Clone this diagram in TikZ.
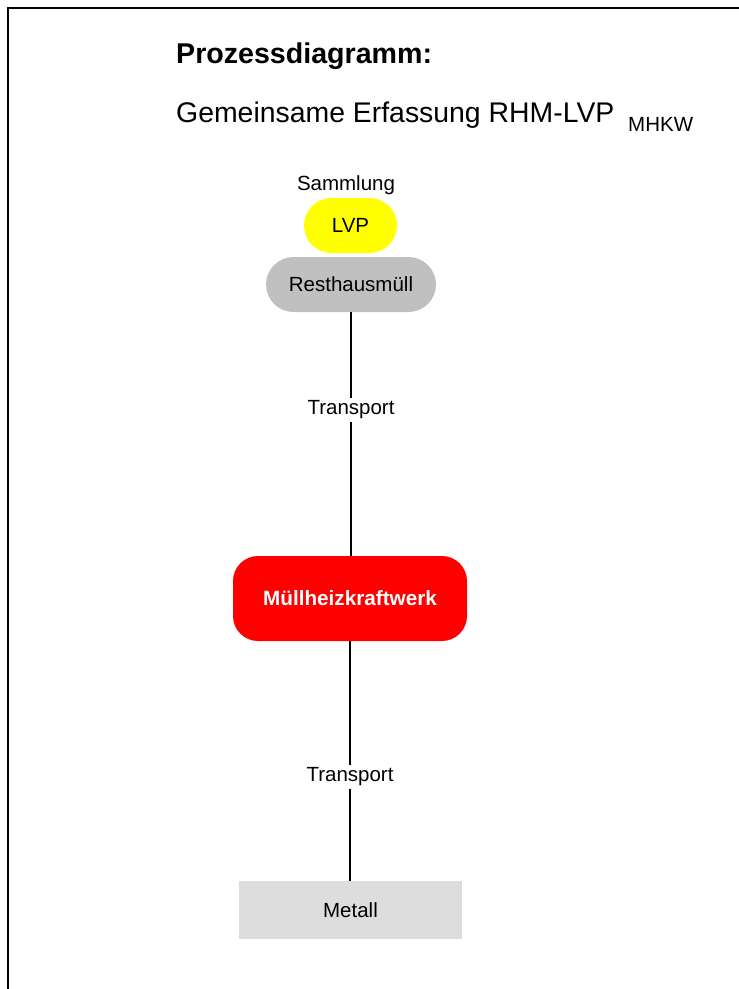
\documentclass[tikz,border=0pt]{standalone}
\usepackage{fontspec}
\setmainfont{Liberation Sans}
\definecolor{lvpyellow}{RGB}{255,255,0}
\definecolor{rhmgray}{RGB}{192,192,192}
\definecolor{mhkwred}{RGB}{255,0,0}
\definecolor{metalgray}{RGB}{221,221,221}
\begin{document}
\begin{tikzpicture}[x=1pt,y=-1pt,
  txt/.style={font=\fontsize{20.5}{24}\selectfont, inner sep=0pt},
  capsule/.style={txt, draw=none, rounded corners=27.5pt, minimum height=55pt},
  stage/.style={txt, fill=white, inner sep=3pt},
  link/.style={line width=2pt, black}]
  \useasboundingbox (0,0) rectangle (739,989);
  % page frame
  \draw[line width=2.2pt] (8,989) -- (8,8) -- (739,8);

  % heading
  \node[anchor=base west, inner sep=0pt, font=\fontsize{28.6}{32}\selectfont\bfseries] (title) at (176,63) {Prozessdiagramm:};
  \node[anchor=base west, inner sep=0pt, font=\fontsize{28.4}{32}\selectfont] (subtitle) at (176,122) {Gemeinsame Erfassung RHM-LVP};
  \node[anchor=base west, inner sep=0pt, font=\fontsize{20.5}{24}\selectfont] (sub) at (628,131) {MHKW};

  % collection
  \node[txt] (sammlung) at (346,185) {Sammlung};
  \node[capsule, fill=lvpyellow, minimum width=93pt] (lvp) at (350.5,225.5) {LVP};
  \node[capsule, fill=rhmgray, minimum width=170pt] (rhm) at (351,284.5) {Resthausmüll};

  % plant
  \node[txt, fill=mhkwred, text=white, font=\fontsize{20.7}{24}\selectfont\bfseries,
        rounded corners=25pt, minimum width=234pt, minimum height=85pt] (mhkw) at (350,598.5) {Müllheizkraftwerk};

  % output
  \node[txt, fill=metalgray, minimum width=223pt, minimum height=58pt] (metall) at (350.5,910) {Metall};

  % transport stages
  \node[stage] (t1) at (351,410) {Transport};
  \node[stage] (t2) at (350,777) {Transport};

  \draw[link] (rhm.south -| t1) -- (t1.north);
  \draw[link] (t1.south) -- (t1.south |- mhkw.north);
  \draw[link] (mhkw.south -| t2) -- (t2.north);
  \draw[link] (t2.south) -- (t2.south |- metall.north);
\end{tikzpicture}
\end{document}
